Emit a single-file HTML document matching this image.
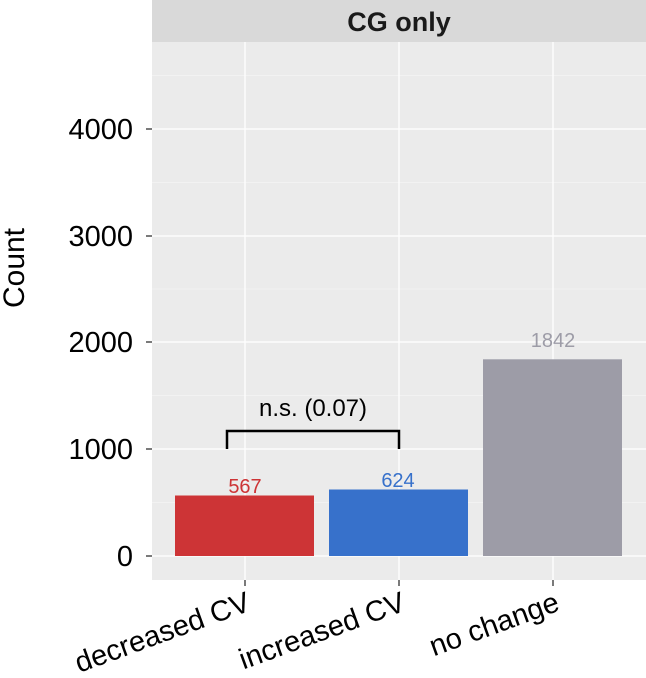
<!DOCTYPE html><html><head><style>body{margin:0;background:#fff}</style></head><body>
<svg width="646" height="673" xmlns="http://www.w3.org/2000/svg" font-family="Liberation Sans, sans-serif">
<rect x="152" y="42" width="494" height="538" fill="#ebebeb"/>
<rect x="152" y="0" width="494" height="42" fill="#d9d9d9"/>
<text x="399" y="31" text-anchor="middle" font-size="27" font-weight="bold" fill="#1a1a1a">CG only</text>
<g stroke="#f5f5f5" stroke-width="0.8">
<line x1="152" x2="646" y1="75.5" y2="75.5"/><line x1="152" x2="646" y1="182.5" y2="182.5"/><line x1="152" x2="646" y1="289" y2="289"/><line x1="152" x2="646" y1="395.5" y2="395.5"/><line x1="152" x2="646" y1="502.5" y2="502.5"/>
</g>
<g stroke="#ffffff" stroke-width="1.3">
<line x1="152" x2="646" y1="129" y2="129"/><line x1="152" x2="646" y1="236" y2="236"/><line x1="152" x2="646" y1="342" y2="342"/><line x1="152" x2="646" y1="449" y2="449"/><line x1="152" x2="646" y1="556" y2="556"/>
<line x1="245" x2="245" y1="42" y2="580"/><line x1="399" x2="399" y1="42" y2="580"/><line x1="553" x2="553" y1="42" y2="580"/>
</g>
<rect x="175" y="495.5" width="139" height="60.5" fill="#cd3436"/>
<rect x="329" y="489.5" width="139" height="66.5" fill="#3771cb"/>
<rect x="483" y="359.3" width="139" height="196.7" fill="#9d9ca7"/>
<text x="245" y="493" text-anchor="middle" font-size="20" fill="#cd3436">567</text>
<text x="398" y="487" text-anchor="middle" font-size="20" fill="#3771cb">624</text>
<text x="553" y="347" text-anchor="middle" font-size="20" fill="#9d9ca7">1842</text>
<path d="M227 449 V431 H399 V449" fill="none" stroke="#000" stroke-width="2.5"/>
<text x="313" y="416" text-anchor="middle" font-size="24" fill="#000">n.s. (0.07)</text>
<g font-size="29" fill="#000" text-anchor="end">
<text x="133" y="139">4000</text><text x="133" y="246">3000</text><text x="133" y="352">2000</text><text x="133" y="459">1000</text><text x="133" y="566">0</text>
</g>
<g stroke="#333" stroke-width="1.3">
<line x1="146" x2="152" y1="129" y2="129"/><line x1="146" x2="152" y1="236" y2="236"/><line x1="146" x2="152" y1="342" y2="342"/><line x1="146" x2="152" y1="449" y2="449"/><line x1="146" x2="152" y1="556" y2="556"/>
<line x1="245" x2="245" y1="580" y2="586"/><line x1="399" x2="399" y1="580" y2="586"/><line x1="553" x2="553" y1="580" y2="586"/>
</g>
<g font-size="29" fill="#000" text-anchor="end">
<text transform="translate(252,610) rotate(-20)">decreased CV</text>
<text transform="translate(407,610) rotate(-20)">increased CV</text>
<text transform="translate(561,610) rotate(-20)">no change</text>
</g>
<text transform="translate(24,268) rotate(-90)" text-anchor="middle" font-size="30" fill="#000">Count</text>
</svg></body></html>
